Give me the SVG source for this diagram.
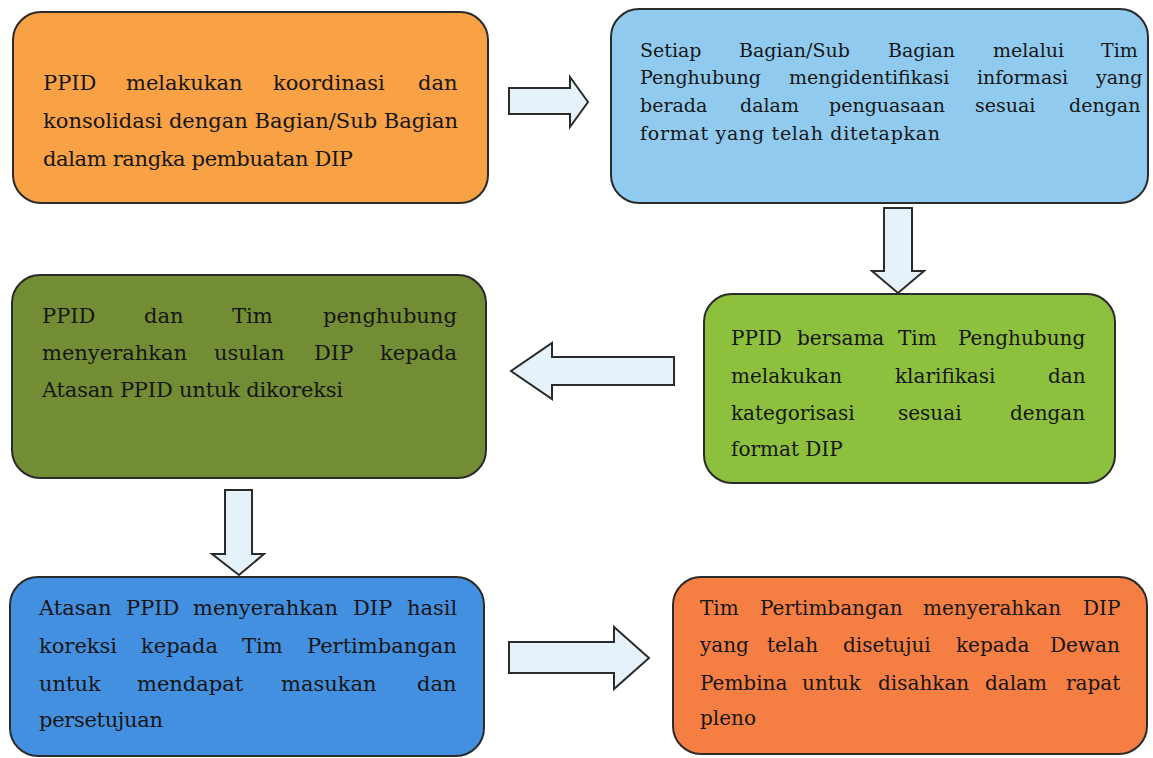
<svg xmlns="http://www.w3.org/2000/svg" width="1153" height="758" viewBox="0 0 1153 758">
<style>
.box{stroke:#2b2b2b;stroke-width:2}
.t{font-family:"DejaVu Serif","Liberation Serif",serif;fill:#161616}
.arr{fill:#e6f2fa;stroke:#2b2b2b;stroke-width:2;stroke-linejoin:miter}
</style>
<rect width="1153" height="758" fill="#ffffff"/>
<g id="connectors">
<polygon class="arr" points="509,88 570,88 570,77 588,102 570,127 570,114 509,114"/>
<polygon class="arr" points="884,208 912,208 912,271 924,271 898,293 872,271 884,271"/>
<polygon class="arr" points="674,357 674,385 552,385 552,399 511,371 552,343 552,357"/>
<polygon class="arr" points="225,490 252,490 252,554 264,554 239,575 212,554 225,554"/>
<polygon class="arr" points="509,642 614,642 614,627 649,658 614,689 614,673 509,673"/>
</g>
<g id="node1">
<rect class="box" x="13" y="12" width="475" height="191" rx="28" fill="#f8a145"/>
<text class="t" font-size="21" y="90"><tspan x="43">PPID</tspan><tspan x="126">melakukan</tspan><tspan x="273">koordinasi</tspan><tspan x="418">dan</tspan></text>
<text class="t" font-size="21" x="43" y="128" textLength="415" lengthAdjust="spacing">konsolidasi dengan Bagian/Sub Bagian</text>
<text class="t" font-size="21" x="43" y="166" textLength="310" lengthAdjust="spacing">dalam rangka pembuatan DIP</text>
</g>
<g id="node2">
<rect class="box" x="611" y="9" width="537" height="194" rx="28" fill="#90cbef"/>
<text class="t" font-size="19" y="57"><tspan x="640">Setiap</tspan><tspan x="739">Bagian/Sub</tspan><tspan x="888">Bagian</tspan><tspan x="993">melalui</tspan><tspan x="1101">Tim</tspan></text>
<text class="t" font-size="19" y="84"><tspan x="640">Penghubung</tspan><tspan x="789">mengidentifikasi</tspan><tspan x="977">informasi</tspan><tspan x="1096">yang</tspan></text>
<text class="t" font-size="19" y="112"><tspan x="640">berada</tspan><tspan x="740">dalam</tspan><tspan x="829">penguasaan</tspan><tspan x="975">sesuai</tspan><tspan x="1069">dengan</tspan></text>
<text class="t" font-size="19" x="640" y="140" textLength="300" lengthAdjust="spacing">format yang telah ditetapkan</text>
</g>
<g id="node3">
<rect class="box" x="704" y="294" width="411" height="189" rx="28" fill="#8dc03c"/>
<text class="t" font-size="20" y="345"><tspan x="731">PPID</tspan><tspan x="797">bersama</tspan><tspan x="898">Tim</tspan><tspan x="958">Penghubung</tspan></text>
<text class="t" font-size="20" y="383"><tspan x="731">melakukan</tspan><tspan x="895">klarifikasi</tspan><tspan x="1048">dan</tspan></text>
<text class="t" font-size="20" y="420"><tspan x="731">kategorisasi</tspan><tspan x="898">sesuai</tspan><tspan x="1010">dengan</tspan></text>
<text class="t" font-size="20" x="731" y="456">format DIP</text>
</g>
<g id="node4">
<rect class="box" x="12" y="275" width="474" height="203" rx="28" fill="#728d33"/>
<text class="t" font-size="21" y="323"><tspan x="42">PPID</tspan><tspan x="144">dan</tspan><tspan x="232">Tim</tspan><tspan x="323">penghubung</tspan></text>
<text class="t" font-size="21" y="360"><tspan x="42">menyerahkan</tspan><tspan x="214">usulan</tspan><tspan x="314">DIP</tspan><tspan x="380">kepada</tspan></text>
<text class="t" font-size="21" x="42" y="397" textLength="301" lengthAdjust="spacing">Atasan PPID untuk dikoreksi</text>
</g>
<g id="node5">
<rect class="box" x="10" y="577" width="474" height="179" rx="28" fill="#4490e0"/>
<text class="t" font-size="21" y="615"><tspan x="39">Atasan</tspan><tspan x="126">PPID</tspan><tspan x="193">menyerahkan</tspan><tspan x="353">DIP</tspan><tspan x="407">hasil</tspan></text>
<text class="t" font-size="21" y="653"><tspan x="39">koreksi</tspan><tspan x="141">kepada</tspan><tspan x="242">Tim</tspan><tspan x="307">Pertimbangan</tspan></text>
<text class="t" font-size="21" y="691"><tspan x="39">untuk</tspan><tspan x="137">mendapat</tspan><tspan x="281">masukan</tspan><tspan x="417">dan</tspan></text>
<text class="t" font-size="21" x="39" y="727" textLength="124" lengthAdjust="spacing">persetujuan</text>
</g>
<g id="node6">
<rect class="box" x="673" y="577" width="474" height="177" rx="28" fill="#f57e42"/>
<text class="t" font-size="20" y="615"><tspan x="700">Tim</tspan><tspan x="760">Pertimbangan</tspan><tspan x="923">menyerahkan</tspan><tspan x="1083">DIP</tspan></text>
<text class="t" font-size="20" y="652"><tspan x="700">yang</tspan><tspan x="767">telah</tspan><tspan x="843">disetujui</tspan><tspan x="956">kepada</tspan><tspan x="1050">Dewan</tspan></text>
<text class="t" font-size="20" y="690"><tspan x="700">Pembina</tspan><tspan x="802">untuk</tspan><tspan x="878">disahkan</tspan><tspan x="985">dalam</tspan><tspan x="1066">rapat</tspan></text>
<text class="t" font-size="20" x="700" y="725">pleno</text>
</g>
</svg>
